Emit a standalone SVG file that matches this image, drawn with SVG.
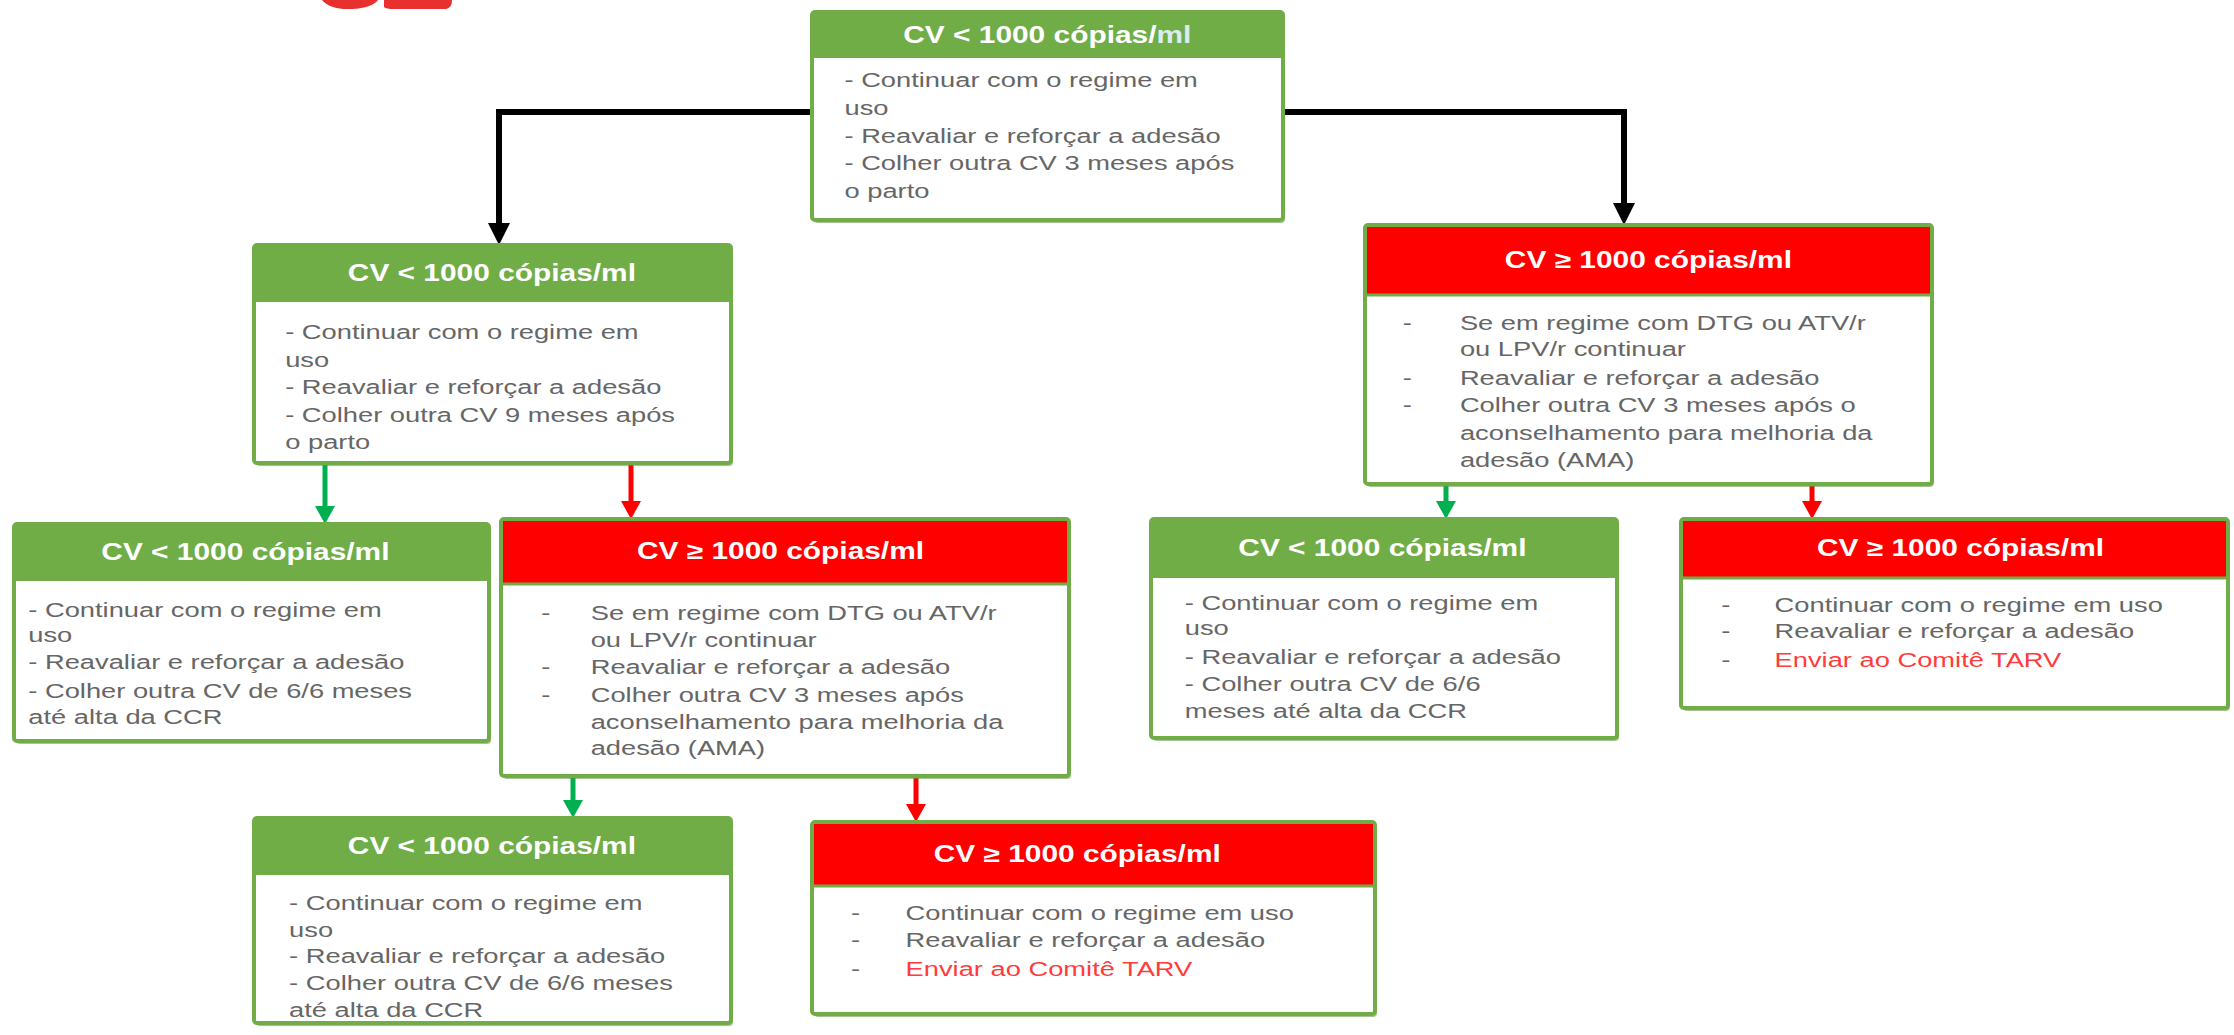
<svg xmlns="http://www.w3.org/2000/svg" width="2234" height="1035" viewBox="0 0 2234 1035">
<style>
.box{fill:#ffffff;stroke:#70ad47;stroke-width:4}
.sh{fill:#5e8f3c;opacity:0.55}
.hg{fill:#70ad47}
.hr{fill:#ff0000}
.sep{stroke:#70ad47;stroke-width:3}
.ht{font-family:"Liberation Sans",Arial,sans-serif;font-weight:bold;font-size:23px;fill:#ffffff;text-anchor:middle}
.bt{font-family:"Liberation Sans",Arial,sans-serif;font-size:21px;fill:#666666}
.rt{fill:#ff3b3b}
.bl{stroke:#000000;stroke-width:6;fill:none}
.gl{stroke:#00b050;stroke-width:5;fill:none}
.rl{stroke:#ff0000;stroke-width:5;fill:none}
</style>
<defs>
<marker id="ab" markerUnits="userSpaceOnUse" markerWidth="24" markerHeight="22" refX="0" refY="11" orient="auto"><path d="M0,0 L22,11 L0,22 z" fill="#000000"/></marker>
<marker id="ag" markerUnits="userSpaceOnUse" markerWidth="20" markerHeight="20" refX="0" refY="10" orient="auto"><path d="M0,0 L18,10 L0,20 z" fill="#00b050"/></marker>
<marker id="ar" markerUnits="userSpaceOnUse" markerWidth="20" markerHeight="20" refX="0" refY="10" orient="auto"><path d="M0,0 L18,10 L0,20 z" fill="#ff0000"/></marker>
</defs>
<rect width="2234" height="1035" fill="#ffffff"/>
<g id="topmark" fill="#e8312f">
<path d="M322,0 Q330,10 352,9 Q372,8 378,0 z"/>
<path d="M384,0 L384,7 Q386,9 394,9 L446,9 Q452,8 452,0 z"/>
</g>
<g id="connectors">
<path class="bl" d="M812,112 H499 V223" marker-end="url(#ab)"/>
<path class="bl" d="M1282,112 H1624 V203" marker-end="url(#ab)"/>
<path class="gl" d="M325,463 V506" marker-end="url(#ag)"/>
<path class="rl" d="M631,463 V501" marker-end="url(#ar)"/>
<path class="gl" d="M1446,484 V501" marker-end="url(#ag)"/>
<path class="rl" d="M1812,484 V501" marker-end="url(#ar)"/>
<path class="gl" d="M573,776 V800" marker-end="url(#ag)"/>
<path class="rl" d="M916,776 V804" marker-end="url(#ar)"/>
</g>
<g id="boxA">
<rect class="sh" x="814" y="15" width="471" height="208" rx="4"/>
<rect class="box" x="812" y="12" width="471" height="208" rx="3"/>
<rect class="hg" x="812" y="12" width="471" height="46"/>
<g transform="matrix(1.3,0,0,1,812,0)">
<text class="ht" x="181" y="43">CV &lt; 1000 cópias/<tspan fill="#d8ecf2">ml</tspan></text>
<text class="bt" x="25" y="87">- Continuar com o regime em</text>
<text class="bt" x="25" y="115">uso</text>
<text class="bt" x="25" y="143">- Reavaliar e reforçar a adesão</text>
<text class="bt" x="25" y="170">- Colher outra CV 3 meses após</text>
<text class="bt" x="25" y="198">o parto</text>
</g>
</g>
<g id="boxB">
<rect class="sh" x="256" y="248" width="477" height="218" rx="4"/>
<rect class="box" x="254" y="245" width="477" height="218" rx="3"/>
<rect class="hg" x="254" y="245" width="477" height="57"/>
<g transform="matrix(1.3,0,0,1,254,0)">
<text class="ht" x="183" y="281">CV &lt; 1000 cópias/ml</text>
<text class="bt" x="24" y="339">- Continuar com o regime em</text>
<text class="bt" x="24" y="367">uso</text>
<text class="bt" x="24" y="394">- Reavaliar e reforçar a adesão</text>
<text class="bt" x="24" y="422">- Colher outra CV 9 meses após</text>
<text class="bt" x="24" y="449">o parto</text>
</g>
</g>
<g id="boxC">
<rect class="sh" x="1367" y="228" width="567" height="259" rx="4"/>
<rect class="box" x="1365" y="225" width="567" height="259" rx="3"/>
<rect class="hr" x="1367" y="227" width="563" height="68"/>
<line class="sep" x1="1365" y1="295" x2="1932" y2="295"/>
<g transform="matrix(1.3,0,0,1,1365,0)">
<text class="ht" x="218" y="268">CV ≥ 1000 cópias/ml</text>
<text class="bt" x="29" y="330">-</text>
<text class="bt" x="73" y="330">Se em regime com DTG ou ATV/r</text>
<text class="bt" x="73" y="356">ou LPV/r continuar</text>
<text class="bt" x="29" y="385">-</text>
<text class="bt" x="73" y="385">Reavaliar e reforçar a adesão</text>
<text class="bt" x="29" y="412">-</text>
<text class="bt" x="73" y="412">Colher outra CV 3 meses após o</text>
<text class="bt" x="73" y="440">aconselhamento para melhoria da</text>
<text class="bt" x="73" y="467">adesão (AMA)</text>
</g>
</g>
<g id="boxD">
<rect class="sh" x="16" y="527" width="475" height="217" rx="4"/>
<rect class="box" x="14" y="524" width="475" height="217" rx="3"/>
<rect class="hg" x="14" y="524" width="475" height="57"/>
<g transform="matrix(1.3,0,0,1,14,0)">
<text class="ht" x="178" y="560">CV &lt; 1000 cópias/ml</text>
<text class="bt" x="11" y="617">- Continuar com o regime em</text>
<text class="bt" x="11" y="642">uso</text>
<text class="bt" x="11" y="669">- Reavaliar e reforçar a adesão</text>
<text class="bt" x="11" y="698">- Colher outra CV de 6/6 meses</text>
<text class="bt" x="11" y="724">até alta da CCR</text>
</g>
</g>
<g id="boxE">
<rect class="sh" x="503" y="522" width="568" height="257" rx="4"/>
<rect class="box" x="501" y="519" width="568" height="257" rx="3"/>
<rect class="hr" x="503" y="521" width="564" height="63"/>
<line class="sep" x1="501" y1="584" x2="1069" y2="584"/>
<g transform="matrix(1.3,0,0,1,501,0)">
<text class="ht" x="215" y="559">CV ≥ 1000 cópias/ml</text>
<text class="bt" x="31" y="620">-</text>
<text class="bt" x="69" y="620">Se em regime com DTG ou ATV/r</text>
<text class="bt" x="69" y="647">ou LPV/r continuar</text>
<text class="bt" x="31" y="674">-</text>
<text class="bt" x="69" y="674">Reavaliar e reforçar a adesão</text>
<text class="bt" x="31" y="702">-</text>
<text class="bt" x="69" y="702">Colher outra CV 3 meses após</text>
<text class="bt" x="69" y="729">aconselhamento para melhoria da</text>
<text class="bt" x="69" y="755">adesão (AMA)</text>
</g>
</g>
<g id="boxF">
<rect class="sh" x="1153" y="522" width="466" height="219" rx="4"/>
<rect class="box" x="1151" y="519" width="466" height="219" rx="3"/>
<rect class="hg" x="1151" y="519" width="466" height="59"/>
<g transform="matrix(1.3,0,0,1,1151,0)">
<text class="ht" x="178" y="556">CV &lt; 1000 cópias/ml</text>
<text class="bt" x="26" y="610">- Continuar com o regime em</text>
<text class="bt" x="26" y="635">uso</text>
<text class="bt" x="26" y="664">- Reavaliar e reforçar a adesão</text>
<text class="bt" x="26" y="691">- Colher outra CV de 6/6</text>
<text class="bt" x="26" y="718">meses até alta da CCR</text>
</g>
</g>
<g id="boxG">
<rect class="sh" x="1683" y="522" width="547" height="189" rx="4"/>
<rect class="box" x="1681" y="519" width="547" height="189" rx="3"/>
<rect class="hr" x="1683" y="521" width="543" height="57"/>
<line class="sep" x1="1681" y1="578" x2="2228" y2="578"/>
<g transform="matrix(1.3,0,0,1,1681,0)">
<text class="ht" x="215" y="556">CV ≥ 1000 cópias/ml</text>
<text class="bt" x="31" y="612">-</text>
<text class="bt" x="72" y="612">Continuar com o regime em uso</text>
<text class="bt" x="31" y="638">-</text>
<text class="bt" x="72" y="638">Reavaliar e reforçar a adesão</text>
<text class="bt" x="31" y="667">-</text>
<text class="bt rt" x="72" y="667">Enviar ao Comitê TARV</text>
</g>
</g>
<g id="boxH">
<rect class="sh" x="256" y="821" width="477" height="205" rx="4"/>
<rect class="box" x="254" y="818" width="477" height="205" rx="3"/>
<rect class="hg" x="254" y="818" width="477" height="57"/>
<g transform="matrix(1.3,0,0,1,254,0)">
<text class="ht" x="183" y="854">CV &lt; 1000 cópias/ml</text>
<text class="bt" x="27" y="910">- Continuar com o regime em</text>
<text class="bt" x="27" y="937">uso</text>
<text class="bt" x="27" y="963">- Reavaliar e reforçar a adesão</text>
<text class="bt" x="27" y="990">- Colher outra CV de 6/6 meses</text>
<text class="bt" x="27" y="1017">até alta da CCR</text>
</g>
</g>
<g id="boxI">
<rect class="sh" x="814" y="825" width="563" height="192" rx="4"/>
<rect class="box" x="812" y="822" width="563" height="192" rx="3"/>
<rect class="hr" x="814" y="824" width="559" height="62"/>
<line class="sep" x1="812" y1="886" x2="1375" y2="886"/>
<g transform="matrix(1.3,0,0,1,812,0)">
<text class="ht" x="204" y="862">CV ≥ 1000 cópias/ml</text>
<text class="bt" x="30" y="920">-</text>
<text class="bt" x="72" y="920">Continuar com o regime em uso</text>
<text class="bt" x="30" y="947">-</text>
<text class="bt" x="72" y="947">Reavaliar e reforçar a adesão</text>
<text class="bt" x="30" y="976">-</text>
<text class="bt rt" x="72" y="976">Enviar ao Comitê TARV</text>
</g>
</g>
</svg>
